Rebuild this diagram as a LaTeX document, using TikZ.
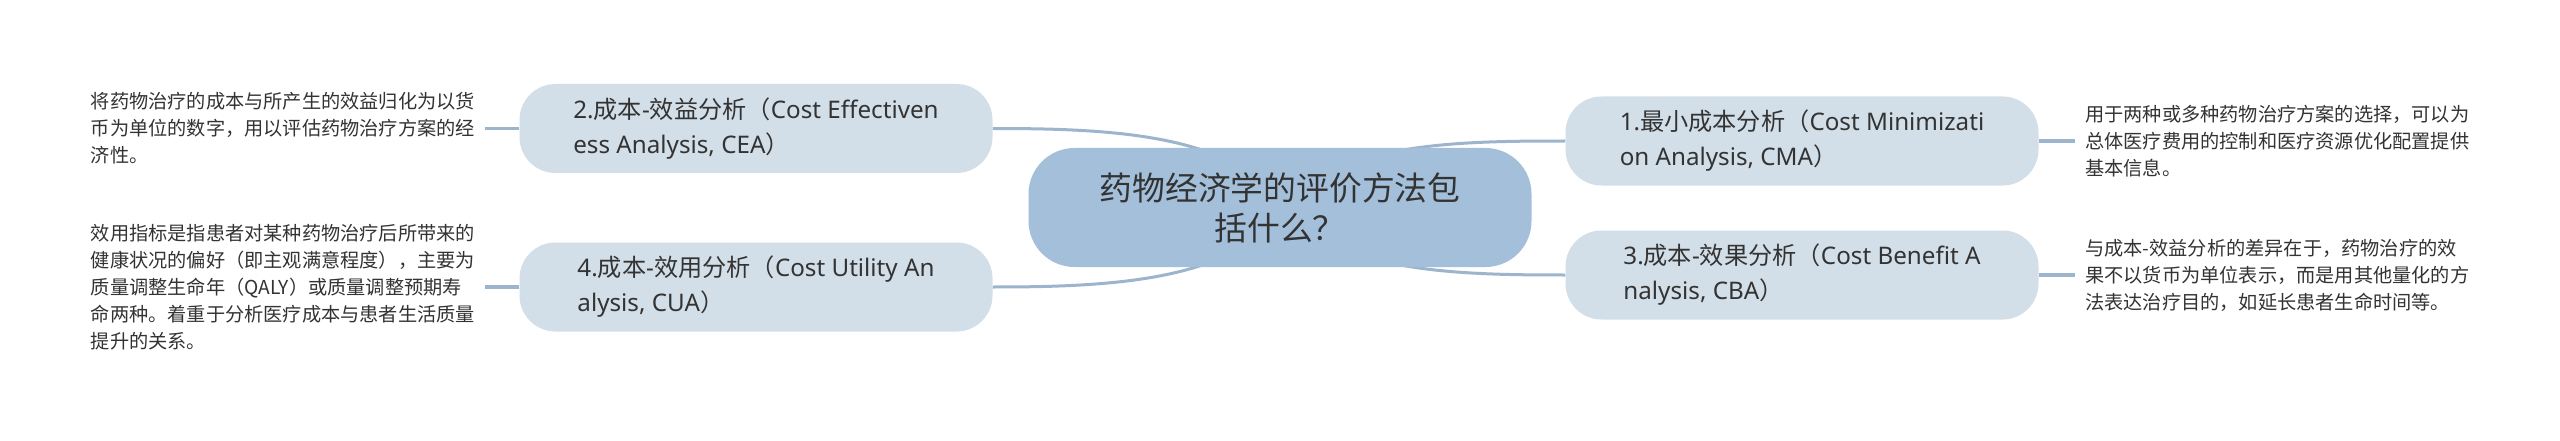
\documentclass[tikz,border=0pt]{standalone}
\usepackage{fontspec}
\setmainfont{Noto Sans}
\newfontfamily\cjk{Noto Sans CJK SC}
\usetikzlibrary{calc}
\pgfdeclarelayer{bg}
\pgfsetlayers{bg,main}
\definecolor{rootfill}{HTML}{A3BFDA}
\definecolor{branchfill}{HTML}{D3DFE8}
\definecolor{linecol}{HTML}{9DB5CC}
\definecolor{txt}{HTML}{333333}
\begin{document}
\begin{tikzpicture}[x=1pt,y=-1pt,
  rootbox/.style={fill=rootfill, rounded corners=46pt, minimum width=503pt, minimum height=119pt,
    align=center, font=\cjk\fontsize{32.8}{40}\selectfont, text=txt, inner sep=0pt},
  branchbox/.style={fill=branchfill, rounded corners=36pt, minimum width=473pt, minimum height=89pt,
    align=left, font=\fontsize{24.2}{35}\selectfont, text=txt, inner sep=0pt},
  leaftext/.style={align=left, font=\cjk\fontsize{19.2}{27}\selectfont, text=txt, inner xsep=10pt, inner ysep=0pt},
  conn/.style={draw=linecol, line width=3pt},
  leafconn/.style={draw=linecol, line width=3.5pt},
]
\useasboundingbox (0,0) rectangle (2560,441);

\node[rootbox] (root) at (1280,207.5) {药物经济学的评价方法包\\括什么？};

\node[branchbox] (n2) at (756,128.5) {2.{\cjk 成本}-{\cjk 效益分析（}Cost Effectiven\\ess Analysis, CEA{\cjk ）}};
\node[branchbox] (n4) at (756,287) {4.{\cjk 成本}-{\cjk 效用分析（}Cost Utility An\\alysis, CUA{\cjk ）}};
\node[branchbox] (n1) at (1802,141) {1.{\cjk 最小成本分析（}Cost Minimizati\\on Analysis, CMA{\cjk ）}};
\node[branchbox] (n3) at (1802,275) {3.{\cjk 成本}-{\cjk 效果分析（}Cost Benefit A\\nalysis, CBA{\cjk ）}};

\node[leaftext, anchor=east] (l2) at (485,128.5) {将药物治疗的成本与所产生的效益归化为以货\\币为单位的数字，用以评估药物治疗方案的经\\济性。};
\node[leaftext, anchor=east] (l4) at (485,287) {效用指标是指患者对某种药物治疗后所带来的\\健康状况的偏好（即主观满意程度），主要为\\质量调整生命年（QALY）或质量调整预期寿\\命两种。着重于分析医疗成本与患者生活质量\\提升的关系。};
\node[leaftext, anchor=west] (l1) at (2075,141) {用于两种或多种药物治疗方案的选择，可以为\\总体医疗费用的控制和医疗资源优化配置提供\\基本信息。};
\node[leaftext, anchor=west] (l3) at (2075,275) {与成本-效益分析的差异在于，药物治疗的效\\果不以货币为单位表示，而是用其他量化的方\\法表达治疗目的，如延长患者生命时间等。};

\begin{pgfonlayer}{bg}
  \fill[white] (0,0) rectangle (2560,441);
  \draw[conn] (root.center) .. controls +(-40,-75) and +(110,0) .. (n2.east);
  \draw[conn] (root.center) .. controls +(-40,75) and +(110,0) .. (n4.east);
  \draw[conn] (root.center) .. controls +(60,-65) and +(-110,0) .. (n1.west);
  \draw[conn] (root.center) .. controls +(60,65) and +(-110,0) .. (n3.west);
  \draw[leafconn] (n2.west) -- (l2.east);
  \draw[leafconn] (n4.west) -- (l4.east);
  \draw[leafconn] (n1.east) -- (l1.west);
  \draw[leafconn] (n3.east) -- (l3.west);
\end{pgfonlayer}
\end{tikzpicture}
\end{document}
